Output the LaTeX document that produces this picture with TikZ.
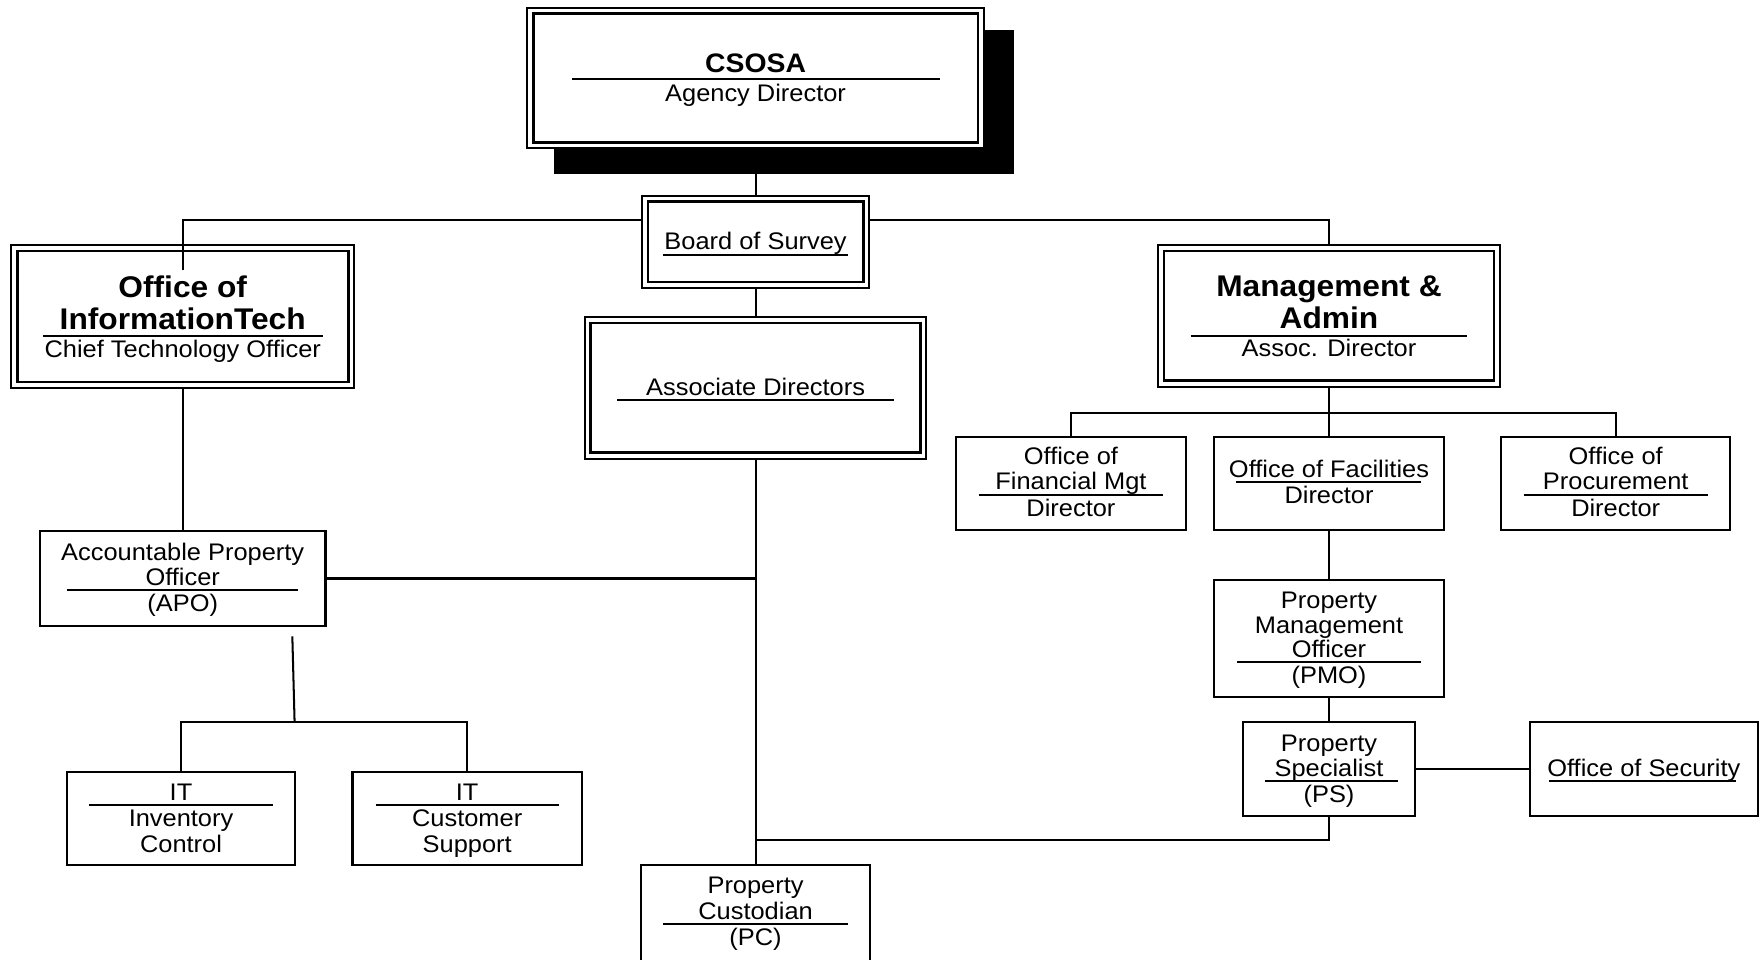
\documentclass[tikz,border=0pt]{standalone}
\usepackage{fontspec}
\setmainfont[FakeStretch=1.06]{Liberation Sans}
\usetikzlibrary{calc}
\newcounter{tlc}
\newcommand\tl[4][rg]{\stepcounter{tlc}\node[#1] (tl\arabic{tlc}) at (#2,#3) {#4};}
\newcommand\bx[5]{\node[#1, minimum width=#4*0.5pt, minimum height=#5*0.5pt] (#2) at (#3) {};}
\newcommand\innerframe[1]{\draw[line width=1.2pt] ($(#1.north west)+(5.3,5.3)$) rectangle ($(#1.south east)+(-5.3,-5.3)$);}
\tikzset{
  ln/.style={line width=0.9pt},
  sbox/.style={draw, line width=0.9pt, fill=white, inner sep=0pt, outer sep=0pt},
  dbox/.style={draw, line width=0.9pt, fill=white, inner sep=0pt, outer sep=0pt},
  rg/.style={anchor=base, inner sep=0pt, font=\fontsize{10.66}{13}\selectfont},
  bd/.style={anchor=base, inner sep=0pt, font=\fontsize{13.3}{16}\selectfont\bfseries},
  bs/.style={anchor=base, inner sep=0pt, font=\fontsize{11.9}{15}\selectfont\bfseries},
}
\begin{document}
\begin{tikzpicture}[x=0.5pt, y=-0.5pt]
\useasboundingbox (0,0) rectangle (1568,853);
\path
  coordinate (jl) at (162.5,196)
  coordinate (jr) at (1182,196)
  coordinate (mb) at (1182,367)
  coordinate (sl1) at (260,566)
  coordinate (sl2) at (262,642)
  coordinate (pcj) at (672,747);
% top box with its shadow
\bx{dbox}{csosa}{672,69.5}{406}{125}
\bx{dbox}{bos}{672,215}{202}{82}
\draw[ln] (csosa.south) -- (bos.north);
\fill (493,27) rectangle (902,155);
\bx{dbox}{csosa}{672,69.5}{406}{125}
\innerframe{csosa}
\innerframe{bos}
\bx{dbox}{oit}{162.5,281.5}{305}{127}
\innerframe{oit}
\bx{dbox}{ma}{1182,281}{304}{126}
\innerframe{ma}
\bx{dbox}{ad}{672,345}{304}{126}
\innerframe{ad}
\bx{sbox}{apo}{162.5,514.5}{254}{84}
\bx{sbox}{itic}{161,728}{203}{83}
\bx{sbox}{itcs}{415.5,728}{204}{83}
\bx{sbox}{pc}{672,815}{204}{92}
\bx{sbox}{ofm}{952.5,430}{204}{83}
\bx{sbox}{of}{1182,430}{204}{83}
\bx{sbox}{op}{1437,430}{204}{83}
\bx{sbox}{pmo}{1182,567.5}{204}{104}
\bx{sbox}{ps}{1182,684}{153}{83}
\bx{sbox}{os}{1462,684}{203}{83}
% connectors
\begin{scope}[ln]
\draw (bos.west |- jl) -- (jl) -- ($(oit.north)+(0,22)$);
\draw (bos.east |- jr) -- (jr) -- (ma.north);
\draw (bos.south) -- (ad.north);
\draw (ad.south) -- (pc.north);
\draw (oit.south) -- (apo.north);
\draw (apo.east) -- (ad.south |- apo.east);
\draw (sl1) -- (sl2);
\draw (itic.north) |- (sl2) -| (itcs.north);
\draw (ma.south) -- (mb);
\draw (ofm.north) |- (mb) -| (op.north);
\draw (mb) -- (of.north);
\draw (of.south) -- (pmo.north);
\draw (pmo.south) -- (ps.north);
\draw (ps.east) -- (os.west);
\draw (ps.south) |- (pcj);
\end{scope}
% separator lines
\begin{scope}[ln]
\draw (509,70.5) -- (836,70.5);
\draw (590,227) -- (754,227);
\draw (38,298.5) -- (287,298.5);
\draw (1059,298.5) -- (1305,298.5);
\draw (549,356) -- (795,356);
\draw (60,525) -- (265,525);
\draw (79,716) -- (243,716);
\draw (334,716) -- (497,716);
\draw (590,822) -- (754,822);
\draw (871,440) -- (1034,440);
\draw (1099,429) -- (1264,429);
\draw (1355,440) -- (1519,440);
\draw (1100,589) -- (1264,589);
\draw (1125,695) -- (1243,695);
\draw (1378,695) -- (1544,695);
\end{scope}
% texts
\tl[bs]{672}{64.5}{CSOSA}
\tl{672}{90}{Agency Director}
\tl{672}{222}{Board of Survey}
\tl[bd]{162.5}{265}{Office of}
\tl[bd]{162.5}{293}{InformationTech}
\tl{162.5}{318}{Chief Technology Officer}
\tl[bd]{1182}{264}{Management \&}
\tl[bd]{1182}{292}{Admin}
\tl{1182}{317}{Assoc. Director}
\tl{672}{352}{Associate Directors}
\tl{162.5}{498.5}{Accountable Property}
\tl{162.5}{520.5}{Officer}
\tl{162.5}{544}{(APO)}
\tl{161}{711.5}{IT}
\tl{161}{735}{Inventory}
\tl{161}{758}{Control}
\tl{415.5}{711.5}{IT}
\tl{415.5}{735}{Customer}
\tl{415.5}{758}{Support}
\tl{672}{795}{Property}
\tl{672}{817.5}{Custodian}
\tl{672}{841}{(PC)}
\tl{952.5}{413}{Office of}
\tl{952.5}{435.5}{Financial Mgt}
\tl{952.5}{459}{Director}
\tl{1182}{424.5}{Office of Facilities}
\tl{1182}{448}{Director}
\tl{1437}{413}{Office of}
\tl{1437}{435.5}{Procurement}
\tl{1437}{459}{Director}
\tl{1182}{541}{Property}
\tl{1182}{563}{Management}
\tl{1182}{584.5}{Officer}
\tl{1182}{608}{(PMO)}
\tl{1182}{668}{Property}
\tl{1182}{690.5}{Specialist}
\tl{1182}{714}{(PS)}
\tl{1462}{690.5}{Office of Security}
\end{tikzpicture}
\end{document}
